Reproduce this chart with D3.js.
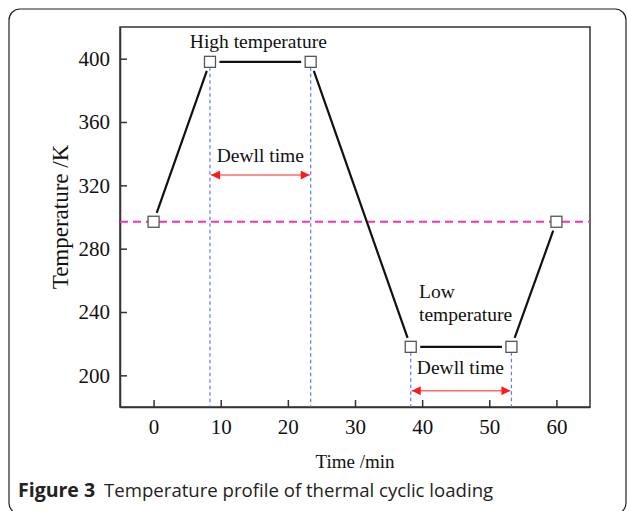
<!DOCTYPE html>
<html>
<head>
<meta charset="utf-8">
<script src="https://cdn.jsdelivr.net/npm/d3@7"></script>
<style>
  html, body { margin: 0; padding: 0; background: #fff; }
  svg { display: block; }
</style>
</head>
<body>
<svg id="chart" width="627" height="511"></svg>
<script>
// Thermal cycle profile: time (min) vs temperature (K)
const times = [0, 8.4, 23.4, 38.3, 53.3, 60];
const temps = [297, 398, 398, 218, 218, 297];
const roomTemp = 297;
const xTicks = [0, 10, 20, 30, 40, 50, 60];
const yTicks = [200, 240, 280, 320, 360, 400];
const xDomain = [-5, 65];
const yDomain = [180, 420];
// dwell intervals (min) and the temperature level where their arrows sit
const dwellHigh = [times[1], times[2]];
const dwellLow = [times[3], times[4]];
const arrowLevels = [326.5, 190.3];

const svg = d3.select("#chart");
const serif = "'Liberation Serif', 'Times New Roman', serif";

// outer rounded frame
svg.append("rect")
  .attr("x", 9).attr("y", 9).attr("width", 617).attr("height", 505)
  .attr("rx", 11).attr("ry", 11)
  .attr("fill", "none").attr("stroke", "#222").attr("stroke-width", 1.2);

const plot = { left: 120, right: 590, top: 27, bottom: 407 };
const x = d3.scaleLinear().domain(xDomain).range([plot.left, plot.right]);
const y = d3.scaleLinear().domain(yDomain).range([plot.bottom, plot.top]);

// plot frame
svg.append("rect")
  .attr("x", plot.left).attr("y", plot.top)
  .attr("width", plot.right - plot.left).attr("height", plot.bottom - plot.top)
  .attr("fill", "none").attr("stroke", "#333").attr("stroke-width", 1.5);

// axes with inward ticks
const xAxis = svg.append("g")
  .attr("transform", `translate(0,${plot.bottom})`)
  .call(d3.axisBottom(x).tickValues(xTicks).tickSizeInner(-7).tickSizeOuter(0).tickPadding(12));
const yAxis = svg.append("g")
  .attr("transform", `translate(${plot.left},0)`)
  .call(d3.axisLeft(y).tickValues(yTicks).tickSizeInner(-7).tickSizeOuter(0).tickPadding(10));
[xAxis, yAxis].forEach(g => {
  g.select(".domain").attr("stroke", "#333").attr("stroke-width", 1.5);
  g.selectAll(".tick line").attr("stroke", "#333").attr("stroke-width", 1.5);
  g.selectAll(".tick text").attr("fill", "#111")
    .style("font-family", serif).style("font-size", "21px");
});

// axis titles
svg.append("text")
  .attr("x", x(30)).attr("y", 468)
  .attr("text-anchor", "middle")
  .style("font-family", serif).style("font-size", "19px").attr("fill", "#111")
  .text("Time /min");
svg.append("text")
  .attr("transform", `translate(68,${(plot.top + plot.bottom) / 2}) rotate(-90)`)
  .attr("text-anchor", "middle")
  .style("font-family", serif).style("font-size", "23px").attr("fill", "#111")
  .text("Temperature /K");

// room temperature reference line
svg.append("line")
  .attr("x1", plot.left).attr("x2", plot.right)
  .attr("y1", y(roomTemp)).attr("y2", y(roomTemp))
  .attr("stroke", "#ff2fb0").attr("stroke-width", 2)
  .attr("stroke-dasharray", "8,5");

const half = 5.5; // marker half-size
// dwell boundary guides
[1, 2, 3, 4].forEach(i => {
  svg.append("line")
    .attr("x1", x(times[i])).attr("x2", x(times[i]))
    .attr("y1", y(temps[i]) + half).attr("y2", plot.bottom)
    .attr("stroke", "#5a78ff").attr("stroke-width", 1.2)
    .attr("stroke-dasharray", "3.5,3");
});

// profile segments, stopping short of each marker
const pts = times.map((t, i) => [x(t), y(temps[i])]);
const gap = half + 4;
for (let i = 0; i < pts.length - 1; i++) {
  const [x0, y0] = pts[i], [x1, y1] = pts[i + 1];
  const len = Math.hypot(x1 - x0, y1 - y0);
  const ux = (x1 - x0) / len, uy = (y1 - y0) / len;
  svg.append("line")
    .attr("x1", x0 + ux * gap).attr("y1", y0 + uy * gap)
    .attr("x2", x1 - ux * gap).attr("y2", y1 - uy * gap)
    .attr("stroke", "#111").attr("stroke-width", 2.2);
}

// open square markers
svg.selectAll("rect.marker").data(pts).enter().append("rect")
  .attr("class", "marker")
  .attr("x", d => d[0] - half).attr("y", d => d[1] - half)
  .attr("width", half * 2).attr("height", half * 2)
  .attr("fill", "#fff").attr("stroke", "#555").attr("stroke-width", 1.3);

// dwell arrows
const defs = svg.append("defs");
defs.append("marker")
  .attr("id", "ah").attr("viewBox", "0 0 10 10")
  .attr("refX", 10).attr("refY", 5)
  .attr("markerUnits", "userSpaceOnUse")
  .attr("markerWidth", 11).attr("markerHeight", 9)
  .attr("orient", "auto-start-reverse")
  .append("path").attr("d", "M0,0 L10,5 L0,10 Z").attr("fill", "#ff1a1a");

function dwellArrow(range, temp) {
  svg.append("line")
    .attr("x1", x(range[0]) + 1).attr("x2", x(range[1]) - 1)
    .attr("y1", y(temp)).attr("y2", y(temp))
    .attr("stroke", "#ff6b6b").attr("stroke-width", 1.5)
    .attr("marker-start", "url(#ah)").attr("marker-end", "url(#ah)");
}
dwellArrow(dwellHigh, arrowLevels[0]);
dwellArrow(dwellLow, arrowLevels[1]);

// annotations
const ann = (tx, ty, txt, anchor) => svg.append("text")
  .attr("x", tx).attr("y", ty).attr("text-anchor", anchor || "middle")
  .style("font-family", serif).style("font-size", "19.5px").attr("fill", "#111")
  .text(txt);
ann(x(15.6), 48, "High temperature");
ann(x(15.9), 162, "Dewll time");
ann(419, 298, "Low", "start");
ann(419, 321, "temperature", "start");
ann(x(45.7), 374, "Dewll time");

// figure caption
const cap = svg.append("text")
  .attr("x", 18).attr("y", 497)
  .style("font-family", "'Open Sans', 'Noto Sans', sans-serif").style("font-size", "18.6px")
  .attr("fill", "#222");
cap.append("tspan").style("font-weight", "bold").style("font-size", "19.5px").text("Figure 3");
cap.append("tspan").attr("dx", 9).text("Temperature profile of thermal cyclic loading");
</script>
</body>
</html>
